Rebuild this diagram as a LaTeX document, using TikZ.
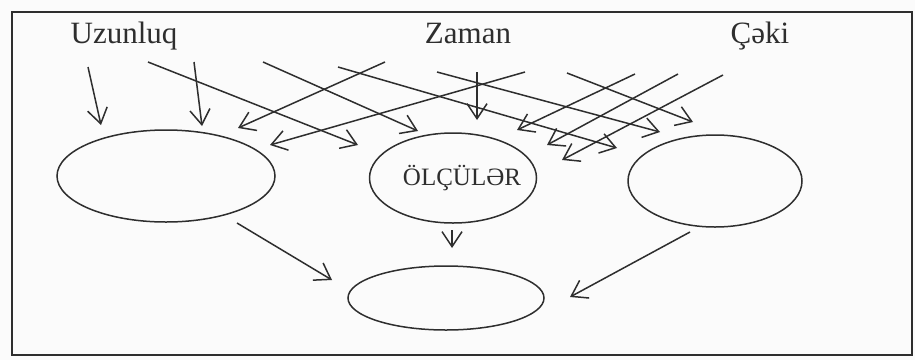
\documentclass[tikz,border=0pt]{standalone}
\usepackage{fontspec}
\setmainfont{Liberation Serif}
\usetikzlibrary{shapes.geometric,arrows.meta}
\definecolor{ink}{HTML}{2E2E2E}
\begin{document}
\begin{tikzpicture}[x=1pt,y=-1pt,
  ink line/.style={draw=ink,line width=1.5pt},
  arr/.style={ink line,-{Straight Barb[length=15pt,width=20pt,line width=1.5pt]}},
  oval/.style={ellipse,draw=ink,line width=1.5pt,inner sep=0pt},
  head/.style={font=\fontsize{31}{36}\selectfont,text=ink,anchor=base},
]
\useasboundingbox (0,0) rectangle (915,360);
\fill[gray!3] (0,0) rectangle (915,360);
\draw[ink line,line width=1.8pt] (12,12) rectangle (912,355);

% heading labels
\node[head] (uz) at (124,43) {Uzunluq};
\node[head] (za) at (468,43) {Zaman};
\node[head] (ce) at (760,43) {Çəki};

% ellipses
\node[oval,minimum width=218pt,minimum height=92pt] (L) at (166,176) {};
\node[oval,minimum width=167pt,minimum height=90pt] (C) at (453,178) {};
\node[font=\fontsize{25}{30}\selectfont,text=ink,anchor=base] (Ct) at (462,185) {ÖLÇÜLƏR};
\node[oval,minimum width=174pt,minimum height=92pt] (R) at (715,181) {};
\node[oval,minimum width=196pt,minimum height=64pt] (B) at (446,298) {};

% arrow end points
\coordinate (s1) at (88,67);   \coordinate (e1) at (101,125);
\coordinate (s2) at (194,62);  \coordinate (e2) at (202,126);
\coordinate (s3) at (148,62);  \coordinate (e3) at (358,145);
\coordinate (s4) at (263,62);  \coordinate (e4) at (418,131);
\coordinate (s5) at (385,62);  \coordinate (e5) at (238,128);
\coordinate (s6) at (525,72);  \coordinate (e6) at (270,145);
\coordinate (s7) at (477,72);  \coordinate (e7) at (477,120);
\coordinate (s8) at (338,67);  \coordinate (e8) at (617,148);
\coordinate (s9) at (437,72);  \coordinate (e9) at (660,132);
\coordinate (s10) at (567,73); \coordinate (e10) at (693,122);
\coordinate (s11) at (635,74); \coordinate (e11) at (517,130);
\coordinate (s12) at (678,74); \coordinate (e12) at (547,145);
\coordinate (s13) at (723,75); \coordinate (e13) at (562,160);
\coordinate (t1) at (237,223); \coordinate (f1) at (332,280);
\coordinate (t2) at (452,230); \coordinate (f2) at (452,248);
\coordinate (t3) at (690,232); \coordinate (f3) at (570,297);

\foreach \i in {1,...,13} {\draw[arr] (s\i) -- (e\i);}
\foreach \i in {1,2,3} {\draw[arr] (t\i) -- (f\i);}
\end{tikzpicture}
\end{document}
